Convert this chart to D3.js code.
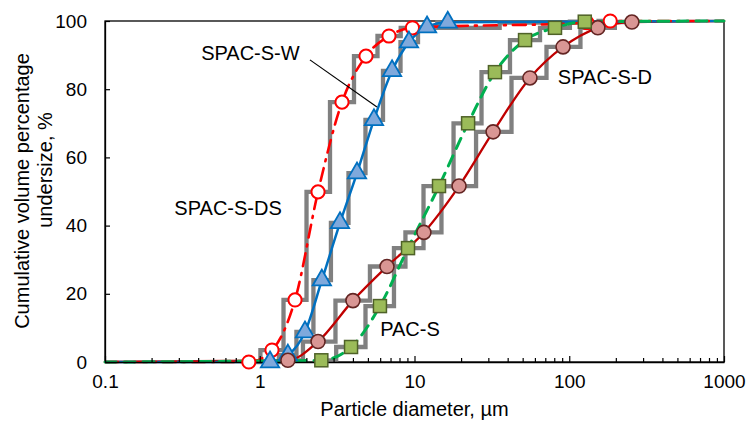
<!DOCTYPE html>
<html>
<head>
<meta charset="utf-8">
<script src="https://cdn.jsdelivr.net/npm/d3@7/dist/d3.min.js"></script>
<style>
  body { margin: 0; background: #fff; }
  text { font-family: "Liberation Sans", Arial, sans-serif; fill: #000; }
</style>
</head>
<body>
<svg id="chart" width="748" height="421"></svg>
<script>
// axis ticks
const xTicks = [0.1, 1, 10, 100, 1000];
const xTickLabels = ["0.1", "1", "10", "100", "1000"];
const yTicks = [0, 20, 40, 60, 80, 100];

// SPAC-S-DS (open red circles)
const dsSize  = [0.85, 1.2, 1.69, 2.38, 3.4, 4.86, 6.84, 9.7, 130, 184];
const dsUnder = [0, 3.5, 18.2, 49.9, 76.2, 89.7, 95.6, 98, 99.5, 100];
// SPAC-S-W (blue triangles)
const wSize  = [1.165, 1.52, 1.96, 2.52, 3.3, 4.25, 5.47, 7.16, 9.21, 12.05, 16.4];
const wUnder = [0, 2, 8.8, 24, 40.8, 55.4, 71, 85.4, 93.8, 98.2, 99.6];
// SPAC-S-D (pink circles)
const dSize  = [1.52, 2.38, 4.0, 6.64, 11.5, 19.4, 32.2, 55.7, 91.2, 153, 254];
const dUnder = [0.5, 6, 18, 28, 38, 51.6, 67.5, 83.3, 92.4, 98, 99.7];
// PAC-S (green squares)
const pSize  = [2.5, 3.89, 5.98, 9.08, 14.4, 22.2, 33.1, 51.8, 80.9, 126];
const pUnder = [0.5, 4.4, 16.4, 33.4, 51.6, 70, 85, 94.4, 98, 99.8];

// text labels, placed in data units
const labelText = ["SPAC-S-W", "SPAC-S-DS", "PAC-S", "SPAC-S-D"];
const labelSize = [0.87, 0.624, 9.35, 170];
const labelUnder = [88.6, 43.1, 7.6, 81.5];

const width = 748, height = 421;
const margin = { top: 21, right: 24, bottom: 59, left: 105 };

const svg = d3.select("#chart");

const x = d3.scaleLog().domain([0.1, 1000]).range([margin.left, width - margin.right]);
const y = d3.scaleLinear().domain([0, 100]).range([height - margin.bottom, margin.top]);

const zip = (xs, ys) => xs.map((v, i) => [v, ys[i]]);

const series = [
  { name: "SPAC-S-D", pts: zip(dSize, dUnder), color: "#C00000", width: 2.3, dash: null },
  { name: "SPAC-S-W", pts: zip(wSize, wUnder), color: "#0070C0", width: 2.5, dash: null },
  { name: "SPAC-S-DS", pts: zip(dsSize, dsUnder), color: "#FF0000", width: 2.6, dash: "13 7 2 7" },
  { name: "PAC-S", pts: zip(pSize, pUnder), color: "#00B050", width: 3, dash: "11 8" }
];

// frame
svg.append("rect")
  .attr("x", margin.left).attr("y", margin.top)
  .attr("width", width - margin.left - margin.right)
  .attr("height", height - margin.top - margin.bottom)
  .attr("fill", "none").attr("stroke", "#000").attr("stroke-width", 1.3);

// gray step lines
const stepLine = d3.line().x(d => x(d[0])).y(d => y(d[1])).curve(d3.curveStep);
svg.append("g").selectAll("path")
  .data(series)
  .join("path")
  .attr("d", d => stepLine(d.pts))
  .attr("fill", "none")
  .attr("stroke", "#808080")
  .attr("stroke-width", 4.3);

// smooth lines, running across the whole axis range
const [xMin, xMax] = x.domain();
const smooth = d3.line().x(d => x(d[0])).y(d => y(d[1])).curve(d3.curveMonotoneX);
svg.append("g").selectAll("path")
  .data(series)
  .join("path")
  .attr("d", d => smooth([[xMin, 0], ...d.pts, [xMax, 100]]))
  .attr("fill", "none")
  .attr("stroke", d => d.color)
  .attr("stroke-width", d => d.width)
  .attr("stroke-dasharray", d => d.dash)
  .attr("stroke-linecap", d => d.dash ? "round" : "butt");

// axes
const xAxis = svg.append("g")
  .attr("transform", `translate(0,${height - margin.bottom})`)
  .call(d3.axisBottom(x).tickValues(xTicks).tickFormat((d, i) => xTickLabels[i])
    .tickSizeInner(-6).tickSizeOuter(0).tickPadding(13));

const minor = [];
xTicks.slice(0, -1).forEach(t => { for (let k = 2; k <= 9; k++) minor.push(t * k); });
svg.append("g")
  .attr("transform", `translate(0,${height - margin.bottom})`)
  .call(d3.axisBottom(x).tickValues(minor).tickFormat("").tickSizeInner(-4).tickSizeOuter(0))
  .call(g => g.select(".domain").remove());

const yAxis = svg.append("g")
  .attr("transform", `translate(${margin.left},0)`)
  .call(d3.axisLeft(y).tickValues(yTicks).tickSizeInner(-5).tickSizeOuter(0).tickPadding(18));

[xAxis, yAxis].forEach(g => {
  g.select(".domain").attr("stroke", "#000").attr("stroke-width", 1.3);
  g.selectAll("text").attr("font-size", 19).attr("font-family", null);
});
svg.selectAll(".tick line").attr("stroke", "#000").attr("stroke-width", 1.2);

// markers
const mk = svg.append("g");
mk.selectAll(".ds").data(series[2].pts).join("circle")
  .attr("cx", d => x(d[0])).attr("cy", d => y(d[1])).attr("r", 6.6)
  .attr("fill", "#fff").attr("stroke", "#FF0000").attr("stroke-width", 2);
mk.selectAll(".w").data(series[1].pts).join("path")
  .attr("transform", d => `translate(${x(d[0])},${y(d[1])})`)
  .attr("d", d3.symbol(d3.symbolTriangle, 145))
  .attr("fill", "#7FA9DC").attr("stroke", "#0070C0").attr("stroke-width", 1.8);
mk.selectAll(".d").data(series[0].pts).join("circle")
  .attr("cx", d => x(d[0])).attr("cy", d => y(d[1])).attr("r", 7)
  .attr("fill", "#D99694").attr("stroke", "#632523").attr("stroke-width", 1.6);
mk.selectAll(".p").data(series[3].pts).join("rect")
  .attr("x", d => x(d[0]) - 6.5).attr("y", d => y(d[1]) - 6.5)
  .attr("width", 13).attr("height", 13)
  .attr("fill", "#9BBB59").attr("stroke", "#4F6228").attr("stroke-width", 1.5);

// series labels and pointer
svg.append("g").selectAll("text")
  .data(labelText)
  .join("text")
  .attr("x", (d, i) => x(labelSize[i]))
  .attr("y", (d, i) => y(labelUnder[i]))
  .attr("text-anchor", "middle")
  .attr("font-size", 20)
  .text(d => d);

svg.append("line")
  .attr("x1", x(2.11)).attr("y1", y(88.6))
  .attr("x2", x(5.72)).attr("y2", y(74.8))
  .attr("stroke", "#000").attr("stroke-width", 1.2);

// axis titles
svg.append("text")
  .attr("x", (x.range()[0] + x.range()[1]) / 2)
  .attr("y", 416)
  .attr("text-anchor", "middle")
  .attr("font-size", 20)
  .text("Particle diameter, µm");

svg.append("text")
  .attr("transform", "translate(29,191) rotate(-90)")
  .attr("text-anchor", "middle")
  .attr("font-size", 20)
  .text("Cumulative volume percentage");
svg.append("text")
  .attr("transform", "translate(52,170) rotate(-90)")
  .attr("text-anchor", "middle")
  .attr("font-size", 20)
  .text("undersize, %");
</script>
</body>
</html>
